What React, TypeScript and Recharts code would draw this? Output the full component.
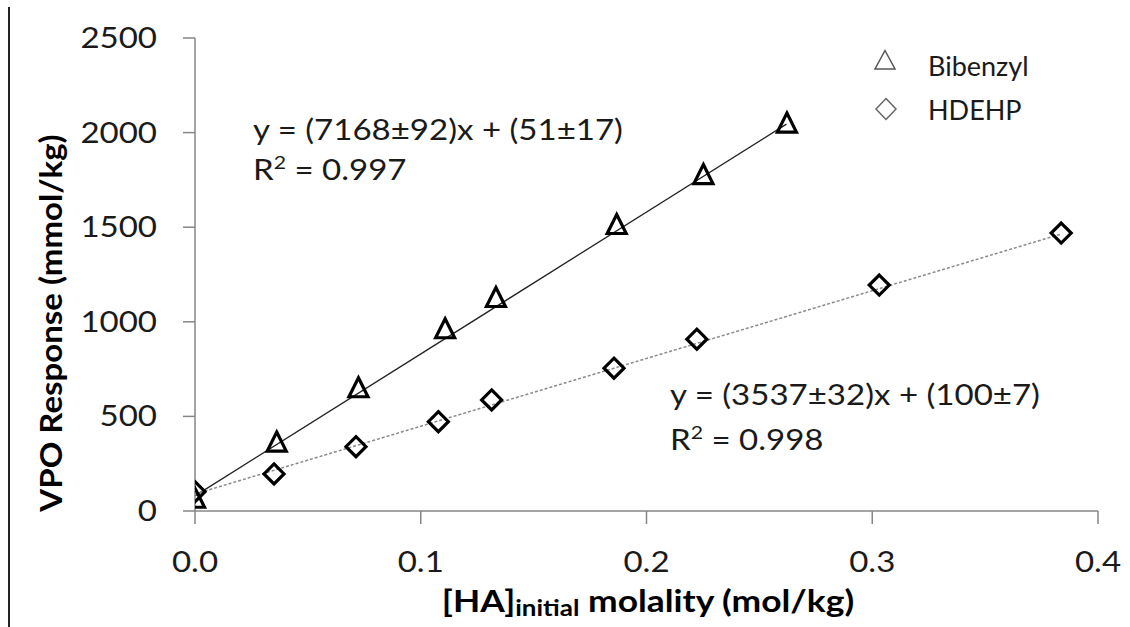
import React from 'react';
import { ScatterChart, Scatter, XAxis, YAxis, ReferenceLine } from 'recharts';

// ---- data ----
const bibenzylX = [0, 0.0362, 0.0724, 0.1108, 0.1333, 0.1868, 0.2252, 0.2622];
const bibenzylY = [70, 367, 654, 966, 1131, 1517, 1781, 2053];
const hdehpX = [0, 0.035, 0.0713, 0.1078, 0.1314, 0.1856, 0.2223, 0.3031, 0.3837];
const hdehpY = [102, 196, 340, 472, 587, 755, 908, 1194, 1469];
const bibenzylTrendX = [0, 0.262];
const bibenzylTrendY = [80, 2045];
const hdehpTrendX = [0, 0.384];
const hdehpTrendY = [90, 1465];
const xTicks = [0, 0.1, 0.2, 0.3, 0.4];
const yTicks = [0, 500, 1000, 1500, 2000, 2500];
const seriesNames = ['Bibenzyl', 'HDEHP'];
const equations = ['y = (7168±92)x + (51±17)', 'y = (3537±32)x + (100±7)'];
const rSquared = ['0.997', '0.998'];
const yTitle = 'VPO Response (mmol/kg)';
const xTitleMain = '[HA]';
const xTitleSub = 'initial';
const xTitleRest = ' molality (mol/kg)';

const bibenzylData = bibenzylX.map((x, i) => ({ x, y: bibenzylY[i] }));
const hdehpData = hdehpX.map((x, i) => ({ x, y: hdehpY[i] }));

const FONT = 'Lato, "Open Sans", sans-serif';
const S = 1.18;
const TS = 1.18;
const TEXT = '#1a1a1a';
const AXIS = '#868686';

function YTick(props: any) {
  const { x, y, payload } = props;
  return (
    <g transform={`translate(${x},${y}) scale(${S},1)`}>
      <text x={0} y={0} dy="0.36em" textAnchor="end" fontFamily={FONT} fontSize={28} fill={TEXT}>
        {payload.value}
      </text>
    </g>
  );
}

function XTick(props: any) {
  const { x, y, payload } = props;
  return (
    <g transform={`translate(${x},${y}) scale(${S},1)`}>
      <text x={0} y={0} dy="0.72em" textAnchor="middle" fontFamily={FONT} fontSize={28} fill={TEXT}>
        {Number(payload.value).toFixed(1)}
      </text>
    </g>
  );
}

function Triangle(props: any) {
  const { cx, cy } = props;
  if (cx == null || cy == null) return null;
  const h = 9.5;
  const w = 9.5;
  return (
    <path
      d={`M${cx},${cy - h} L${cx + w},${cy + h} L${cx - w},${cy + h} Z`}
      fill="none"
      stroke="#000"
      strokeWidth={3.2}
      strokeLinejoin="miter"
    />
  );
}

function Diamond(props: any) {
  const { cx, cy } = props;
  if (cx == null || cy == null) return null;
  const r = 10;
  return (
    <path
      d={`M${cx},${cy - r} L${cx + r},${cy} L${cx},${cy + r} L${cx - r},${cy} Z`}
      fill="none"
      stroke="#000"
      strokeWidth={3.2}
    />
  );
}

export default function App() {
  return (
    <div style={{ position: 'absolute', left: 0, top: 0, width: 1130, height: 627, background: '#fff' }}>
      <ScatterChart
        width={1130}
        height={627}
        margin={{ top: 38, right: 32, bottom: 56, left: 0 }}
      >
        <XAxis
          type="number"
          dataKey="x"
          domain={[0, 0.4]}
          ticks={xTicks}
          height={60}
          axisLine={{ stroke: AXIS, strokeWidth: 1.5 }}
          tickLine={{ stroke: AXIS, strokeWidth: 1.5 }}
          tickSize={13}
          tickMargin={28}
          tick={<XTick />}
          allowDataOverflow
        />
        <YAxis
          type="number"
          dataKey="y"
          domain={[0, 2500]}
          ticks={yTicks}
          width={195}
          axisLine={{ stroke: AXIS, strokeWidth: 1.5 }}
          tickLine={{ stroke: AXIS, strokeWidth: 1.5 }}
          tickSize={12}
          tickMargin={26}
          tick={<YTick />}
          allowDataOverflow
        />
        <ReferenceLine
          segment={[
            { x: bibenzylTrendX[0], y: bibenzylTrendY[0] },
            { x: bibenzylTrendX[1], y: bibenzylTrendY[1] },
          ]}
          stroke="#222"
          strokeWidth={1.3}
          ifOverflow="visible"
        />
        <ReferenceLine
          segment={[
            { x: hdehpTrendX[0], y: hdehpTrendY[0] },
            { x: hdehpTrendX[1], y: hdehpTrendY[1] },
          ]}
          stroke="#8a8a8a"
          strokeWidth={1.5}
          strokeDasharray="3 2"
          ifOverflow="visible"
        />
        <Scatter name={seriesNames[1]} data={hdehpData} shape={<Diamond />} isAnimationActive={false} />
        <Scatter name={seriesNames[0]} data={bibenzylData} shape={<Triangle />} isAnimationActive={false} />
      </ScatterChart>

      <svg
        width={1130}
        height={627}
        style={{ position: 'absolute', left: 0, top: 0, pointerEvents: 'none' }}
      >
        {/* left frame line */}
        <line x1={9} y1={7} x2={9} y2={627} stroke="#222" strokeWidth={2} />

        {/* y title */}
        <g transform={`translate(62,323) rotate(-90) scale(1.1,1)`}>
          <text x={0} y={0} textAnchor="middle" fontFamily={FONT} fontWeight={700} fontSize={30} fill="#000">
            {yTitle}
          </text>
        </g>

        {/* x title */}
        <g transform={`translate(648,612) scale(${TS},1)`}>
          <text x={0} y={0} textAnchor="middle" fontFamily={FONT} fontWeight={700} fontSize={30} fill="#000">
            <tspan>{xTitleMain}</tspan>
            <tspan dy={4} fontSize={22}>{xTitleSub}</tspan>
            <tspan dy={-4}>{xTitleRest}</tspan>
          </text>
        </g>

        {/* equations */}
        <g transform={`translate(253,140) scale(${S},1)`}>
          <text x={0} y={0} fontFamily={FONT} fontSize={28} fill={TEXT}>{equations[0]}</text>
        </g>
        <g transform={`translate(253,180) scale(${S},1)`}>
          <text x={0} y={0} fontFamily={FONT} fontSize={28} fill={TEXT}>
            <tspan>R</tspan>
            <tspan dy={-11} fontSize={18}>2</tspan>
            <tspan dy={11}>{' = ' + rSquared[0]}</tspan>
          </text>
        </g>
        <g transform={`translate(670,405) scale(${S},1)`}>
          <text x={0} y={0} fontFamily={FONT} fontSize={28} fill={TEXT}>{equations[1]}</text>
        </g>
        <g transform={`translate(670,450) scale(${S},1)`}>
          <text x={0} y={0} fontFamily={FONT} fontSize={28} fill={TEXT}>
            <tspan>R</tspan>
            <tspan dy={-11} fontSize={18}>2</tspan>
            <tspan dy={11}>{' = ' + rSquared[1]}</tspan>
          </text>
        </g>

        {/* legend */}
        <path d="M885,50.5 L895,69 L875,69 Z" fill="none" stroke="#555" strokeWidth={1.5} />
        <text x={928} y={76} fontFamily={FONT} fontSize={27} fill={TEXT}>{seriesNames[0]}</text>
        <path d="M886,98.5 L896,109 L886,119.5 L876,109 Z" fill="none" stroke="#666" strokeWidth={1.5} />
        <text x={928} y={120} fontFamily={FONT} fontSize={27} fill={TEXT}>{seriesNames[1]}</text>
      </svg>
    </div>
  );
}
